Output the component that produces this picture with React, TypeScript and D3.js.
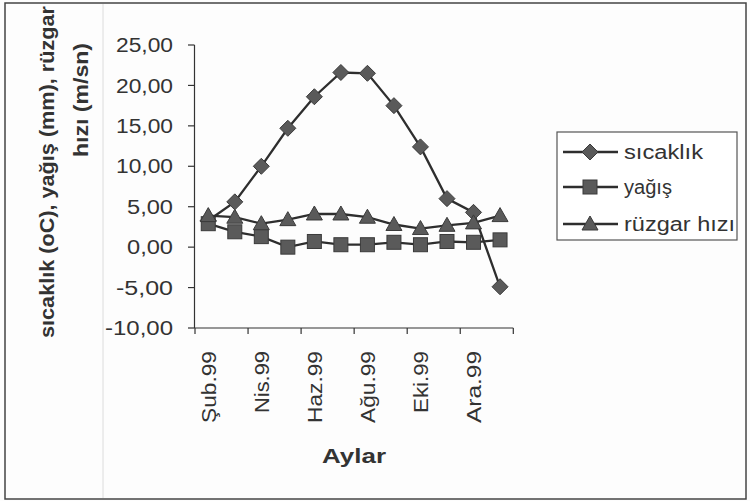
import React from "react";
import * as d3 from "d3";

const categories = ["Şub.99", "Mar.99", "Nis.99", "May.99", "Haz.99", "Tem.99", "Ağu.99", "Eyl.99", "Eki.99", "Kas.99", "Ara.99", "Oca.00"];
const sicaklik = [3.3, 5.6, 10.0, 14.7, 18.6, 21.6, 21.5, 17.5, 12.4, 6.0, 4.3, -4.9];
const yagis = [2.9, 1.9, 1.3, 0.0, 0.7, 0.3, 0.3, 0.6, 0.3, 0.7, 0.6, 0.9];
const ruzgar = [3.9, 3.7, 2.9, 3.4, 4.1, 4.1, 3.7, 2.8, 2.3, 2.7, 3.0, 3.9];
const yTicks = [-10, -5, 0, 5, 10, 15, 20, 25];
const seriesNames = ["sıcaklık", "yağış", "rüzgar hızı"];

const FONT = "Arial, 'Liberation Sans', sans-serif";
const LINE = "#2e2e2e";
const FILL = "#5a5a5a";

function Marker({ type, x, y }: { type: string; x: number; y: number }) {
  if (type === "diamond") {
    const s = 8;
    return <path d={`M${x},${y - s}L${x + s},${y}L${x},${y + s}L${x - s},${y}Z`} fill={FILL} stroke="#3a3a3a" strokeWidth={1} />;
  }
  if (type === "square") {
    const s = 7;
    return <rect x={x - s} y={y - s} width={2 * s} height={2 * s} fill={FILL} stroke="#3a3a3a" strokeWidth={1} />;
  }
  const s = 8;
  return <path d={`M${x},${y - s}L${x + s},${y + s * 0.75}L${x - s},${y + s * 0.75}Z`} fill={FILL} stroke="#3a3a3a" strokeWidth={1} />;
}

export default function App() {
  const x = d3.scaleBand<string>().domain(categories).range([195, 513.3]).paddingInner(0).paddingOuter(0);
  const y = d3.scaleLinear().domain([-10, 25]).range([328, 45]);
  const bw = x.bandwidth();
  const cx = (c: string) => (x(c) as number) + bw / 2;
  const fmt = (v: number) => d3.format(".2f")(v).replace(".", ",").replace("−", "-");
  const series = [
    { name: seriesNames[0], values: sicaklik, marker: "diamond" },
    { name: seriesNames[1], values: yagis, marker: "square" },
    { name: seriesNames[2], values: ruzgar, marker: "triangle" },
  ];
  const line = d3.line<number>().x((_, i) => cx(categories[i])).y((v) => y(v));
  const boundaryIdx = d3.range(0, categories.length + 1, 2);
  const legendWidths = [79, 48, 111];

  return (
    <svg width={750} height={501} style={{ position: "absolute", left: 0, top: 0, background: "#fff" }} fontFamily={FONT}>
      <rect x={0} y={0} width={750} height={501} fill="#fdfdfd" />
      <rect x={5} y={3} width={741} height={496} fill="none" stroke="#444" strokeWidth={1.5} />
      <line x1={103} y1={4} x2={103} y2={498} stroke="#dcdcdc" strokeWidth={1} />

      {/* Y axis */}
      <line x1={194.5} y1={y(25)} x2={194.5} y2={y(-10)} stroke="#333" strokeWidth={1.2} />
      {yTicks.map((t) => (
        <g key={t}>
          <line x1={188} x2={194.5} y1={y(t)} y2={y(t)} stroke="#333" strokeWidth={1.2} />
          <text x={173} y={y(t)} dy="0.36em" textAnchor="end" fontSize={20} fill="#333"
            textLength={t === -10 ? 68 : t < 0 || t >= 10 ? 57 : 46} lengthAdjust="spacingAndGlyphs">
            {fmt(t)}
          </text>
        </g>
      ))}

      {/* X axis */}
      <line x1={194.5} x2={513.3} y1={y(-10)} y2={y(-10)} stroke="#333" strokeWidth={1.2} />
      {boundaryIdx.map((i) => {
        const bx = i < categories.length ? (x(categories[i]) as number) : 513.3;
        return <line key={i} x1={bx} x2={bx} y1={y(-10)} y2={y(-10) + 6} stroke="#333" strokeWidth={1.2} />;
      })}
      {categories.map((c, i) =>
        i % 2 === 0 ? (
          <text key={c} transform={`translate(${cx(c)},351) rotate(-90)`} textAnchor="end" dy="0.36em" fontSize={20.5} fill="#333"
            textLength={c.startsWith("Ş") || c.startsWith("A") || c.startsWith("H") ? 72 : 62} lengthAdjust="spacingAndGlyphs">
            {c}
          </text>
        ) : null
      )}

      {/* Axis titles */}
      <text x={354} y={463} textAnchor="middle" fontSize={21} fontWeight="bold" fill="#333" textLength={64} lengthAdjust="spacingAndGlyphs">
        Aylar
      </text>
      <text transform="translate(47,172) rotate(-90)" textAnchor="middle" dy="0.36em" fontSize={20.5} fontWeight="bold" fill="#333"
        textLength={332} lengthAdjust="spacingAndGlyphs">
        sıcaklık (oC), yağış (mm), rüzgar
      </text>
      <text transform="translate(81,100) rotate(-90)" textAnchor="middle" dy="0.36em" fontSize={20.5} fontWeight="bold" fill="#333"
        textLength={114} lengthAdjust="spacingAndGlyphs">
        hızı (m/sn)
      </text>

      {/* Series */}
      {series.map((s) => (
        <g key={s.name}>
          <path d={line(s.values) || ""} fill="none" stroke={LINE} strokeWidth={2.3} />
          {s.values.map((v, i) => (
            <Marker key={i} type={s.marker} x={cx(categories[i])} y={y(v)} />
          ))}
        </g>
      ))}

      {/* Legend */}
      <rect x={557} y={132} width={180} height={108} fill="#fff" stroke="#555" strokeWidth={1.2} />
      {series.map((s, i) => {
        const ly = [152, 187, 224][i];
        return (
          <g key={s.name}>
            <line x1={563} x2={618} y1={ly} y2={ly} stroke={LINE} strokeWidth={2.3} />
            <Marker type={s.marker} x={590} y={ly} />
            <text x={624} y={ly} dy="0.36em" fontSize={20} fill="#333" textLength={legendWidths[i]} lengthAdjust="spacingAndGlyphs">
              {s.name}
            </text>
          </g>
        );
      })}
    </svg>
  );
}
